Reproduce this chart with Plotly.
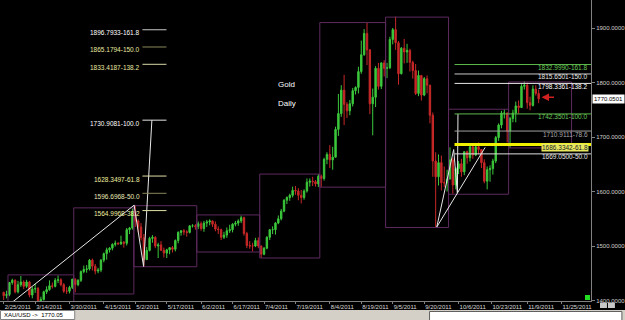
import plotly.graph_objects as go
import pandas as pd
import numpy as np

# ---------------- data ----------------
dates = [d.strftime("%Y-%m-%d") for d in pd.bdate_range("2011-02-25", "2011-11-15")]

opens = [1415,1409,1411,1433,1437,1416,1429,1434,1426,1434,1410,1421,1422,1395,1402,1416,1420,1427,1426,1437,1438,1429,1417,1417,1424,
 1439,1429,1437,1453,1457,1458,1474,1463,1454,1456,1474,1486,1493,1496,1503,1505,1504,1507,1505,1530,1533,
 1563,1546,1535,1515,1475,1492,1514,1516,1500,1502,1492,1487,1493,1497,1494,1510,1525,1528,1526,1525,1537,1537,
 1536,1541,1532,1542,1544,1546,1540,1531,1530,1516,1520,1528,1530,1540,1542,1546,1552,1523,1501,1500,1500,1510,
 1500,1485,1496,1516,1530,1530,1542,1550,1564,1584,1589,1593,1602,1601,1593,1589,1601,1617,1619,1618,1614,
 1628,1624,1659,1668,1658,1663,1714,1743,1786,1760,1748,1761,1785,1791,1820,1851,1890,1860,1761,1773,1826,1793,1836,
 1826,1827,1879,1897,1873,1816,1863,1856,1859,1837,1822,1780,1813,1777,1807,1795,1740,1656,1627,1653,1616,1616,
 1623,1658,1612,1642,1651,1636,1673,1662,1682,1667,1682,1677,1653,1619,1640,1642,1656,1699,1722,1744,1744,
 1711,1734,1744,1757,1754,1793,1795,1763,1758,1788,1780]
highs = [1416,1418,1434,1440,1439,1436,1445,1437,1438,1436,1425,1431,1425,1407,1418,1426,1437,1433,1441,1446,1441,1432,1425,1427,1440,
 1441,1439,1455,1464,1465,1476,1477,1467,1460,1476,1488,1497,1498,1505,1510,1507,1519,1509,1533,1535,1569,
 1575,1549,1542,1522,1498,1517,1520,1518,1506,1509,1497,1495,1498,1500,1512,1527,1529,1531,1529,1538,1540,1540,
 1545,1545,1546,1548,1549,1547,1545,1536,1532,1526,1534,1539,1542,1546,1549,1556,1554,1526,1509,1506,1515,1516,
 1501,1498,1518,1530,1536,1544,1556,1568,1586,1591,1596,1609,1610,1606,1603,1604,1624,1624,1627,1621,1632,
 1631,1662,1672,1685,1682,1719,1779,1795,1814,1764,1768,1790,1793,1829,1877,1898,1911,1861,1789,1830,1836,1837,
 1841,1836,1884,1900,1921,1876,1865,1880,1871,1862,1840,1834,1822,1814,1810,1813,1796,1745,1672,1668,1666,1646,
 1640,1681,1662,1645,1656,1660,1674,1675,1686,1684,1686,1690,1678,1659,1646,1648,1660,1702,1725,1748,1751,
 1745,1737,1750,1765,1767,1797,1802,1800,1774,1795,1795,1787]
lows = [1401,1404,1408,1429,1413,1413,1425,1421,1423,1406,1404,1414,1382,1386,1400,1412,1418,1422,1424,1432,1426,1414,1412,1413,1421,
 1415,1426,1434,1450,1451,1455,1455,1448,1450,1452,1470,1475,1488,1492,1499,1502,1502,1497,1501,1522,1530,
 1535,1525,1510,1462,1475,1490,1506,1496,1478,1491,1479,1478,1485,1488,1490,1505,1519,1520,1517,1523,1534,1530,
 1531,1528,1526,1535,1538,1535,1527,1522,1511,1513,1515,1524,1525,1536,1537,1542,1519,1496,1495,1490,1498,1496,
 1478,1483,1494,1511,1522,1521,1540,1547,1562,1577,1583,1589,1594,1584,1578,1585,1598,1609,1610,1609,1608,
 1608,1620,1650,1643,1640,1667,1702,1737,1722,1735,1740,1756,1778,1780,1816,1849,1832,1742,1703,1755,1787,1788,
 1811,1808,1825,1870,1860,1796,1815,1835,1836,1820,1807,1777,1775,1767,1775,1780,1725,1627,1535,1611,1602,1608,
 1600,1622,1596,1604,1632,1627,1630,1651,1655,1660,1665,1668,1643,1615,1604,1618,1631,1652,1693,1716,1734,
 1690,1680,1727,1727,1743,1754,1787,1752,1749,1756,1776,1762]
closes = [1409,1411,1433,1437,1416,1429,1434,1426,1434,1410,1421,1422,1395,1402,1416,1420,1427,1426,1437,1438,1429,1417,1417,1424,1439,
 1429,1437,1453,1457,1458,1474,1463,1454,1456,1474,1486,1493,1496,1503,1505,1504,1507,1505,1530,1533,1563,
 1546,1535,1515,1475,1492,1514,1516,1500,1502,1492,1487,1493,1497,1494,1510,1525,1528,1526,1525,1537,1537,1536,
 1541,1532,1542,1544,1546,1540,1531,1530,1516,1520,1528,1530,1540,1542,1546,1552,1523,1501,1500,1500,1510,1500,
 1485,1496,1516,1530,1530,1542,1550,1564,1584,1589,1593,1602,1601,1593,1589,1601,1617,1619,1618,1614,1628,
 1624,1659,1668,1658,1663,1714,1743,1786,1760,1748,1761,1785,1791,1820,1851,1890,1860,1761,1773,1826,1793,1836,
 1826,1827,1879,1897,1873,1816,1863,1856,1859,1837,1822,1780,1813,1777,1807,1795,1740,1656,1627,1653,1616,1616,1623,
 1658,1612,1642,1651,1636,1673,1662,1682,1667,1682,1677,1653,1619,1640,1642,1656,1699,1722,1744,1744,1711,
 1734,1744,1757,1754,1793,1795,1763,1758,1788,1780,1770]

# monthly range boxes: start date, end date, high, low
box_start = ["2011-03-01","2011-04-01","2011-05-02","2011-06-01","2011-07-01","2011-08-01","2011-09-01","2011-10-03","2011-11-01"]
box_end   = ["2011-03-31","2011-04-29","2011-05-31","2011-06-30","2011-07-29","2011-08-31","2011-09-30","2011-10-31","2011-11-30"]
box_high  = [1447, 1570, 1574, 1557, 1632, 1910, 1920, 1751, 1801]
box_low   = [1382, 1412, 1462, 1489, 1478, 1608, 1534, 1595, 1680]

tick_dates = ["2011-02-25","2011-03-14","2011-03-30","2011-04-15","2011-05-02","2011-05-17","2011-06-02","2011-06-17",
              "2011-07-04","2011-07-19","2011-08-04","2011-08-19","2011-09-05","2011-09-20","2011-10-06","2011-10-23",
              "2011-11-09","2011-11-25"]
tick_labels = ["2/25/2011","3/14/2011","3/30/2011","4/15/2011","5/2/2011","5/17/2011","6/2/2011","6/17/2011",
               "7/4/2011","7/19/2011","8/4/2011","8/19/2011","9/5/2011","9/20/2011","10/6/2011","10/23/2011",
               "11/9/2011","11/25/2011"]

y_ticks = [1400, 1500, 1600, 1700, 1800, 1900]

left_fib_levels = [1896.7933, 1865.1794, 1833.4187, 1730.9081, 1628.3497, 1596.6968, 1564.9968]
left_fib_labels = ["1896.7933-161.8","1865.1794-150.0","1833.4187-138.2","1730.9081-100.0",
                   "1628.3497-61.8","1596.6968-50.0","1564.9968-38.2"]
right_fib_levels = [1832.9990, 1815.6501, 1798.3361, 1742.3501, 1710.9111, 1686.3342, 1669.0500]
right_fib_labels = ["1832.9990-161.8","1815.6501-150.0","1798.3361-138.2","1742.3501-100.0",
                    "1710.9111-78.6","1686.3342-61.8","1669.0500-50.0"]

# trend-line anchor points (bar position, price)
left_lines = [((-20.0, 1309.0), (43.6, 1575.0)), ((43.6, 1575.0), (46.9, 1462.5)), ((46.9, 1462.5), (49.8, 1730.9))]
right_lines = [((149.4, 1535.0), (155.3, 1677.0)), ((155.3, 1677.0), (156.6, 1597.0)), ((156.6, 1597.0), (156.8, 1742.35)),
               ((149.4, 1535.0), (166.3, 1681.0))]

current_price = 1770.0501
status_text = "XAU/USD ->  1770.05"

# ---------------- helpers ----------------
ORIGIN = "2011-03-01"
idx = np.array([np.busday_count(ORIGIN, d) for d in dates])   # bar position, 0 at 2011-03-01

def pos(d):
    k = float(np.busday_count(ORIGIN, d))
    return k if np.is_busday(d) else k - 0.5

X_MIN, X_MAX = -3.29, 203.3
Y_MIN, Y_MAX = 1399.1, 1951.4
LBL_FONT = "Liberation Sans"

fig = go.Figure()

fig.add_trace(go.Candlestick(
    x=idx, open=opens, high=highs, low=lows, close=closes,
    increasing=dict(line=dict(color="#3cc83c", width=1), fillcolor="#3cc83c"),
    decreasing=dict(line=dict(color="#c82828", width=1), fillcolor="#c82828"),
    whiskerwidth=0, showlegend=False, hoverinfo="skip"))

box_color = "#5e2a5e"
for s, e, h, l in zip(box_start, box_end, box_high, box_low):
    x0 = pos(s) - 0.5
    x1 = pos(e) + 0.5
    fig.add_trace(go.Scatter(x=[x0, x1, x1, x0, x0], y=[h, h, l, l, h], mode="lines",
                             line=dict(color=box_color, width=1), showlegend=False, hoverinfo="skip"))

for (a, b) in left_lines + right_lines:
    fig.add_trace(go.Scatter(x=[a[0], b[0]], y=[a[1], b[1]], mode="lines",
                             line=dict(color="#e8e8e8", width=1), showlegend=False, hoverinfo="skip"))

left_line_colors = ["#c8c8c8", "#8a8a5c", "#d8d8a8", "#e6e6e6", "#e0e0a8", "#86865c", "#e0e0a8"]
left_text_colors = ["#ffffff", "#e8e8a0", "#e8e8a0", "#ffffff", "#f0f0a0", "#e8e8b8", "#f0f0a0"]
for lvl, lab, lc, tc in zip(left_fib_levels, left_fib_labels, left_line_colors, left_text_colors):
    fig.add_trace(go.Scatter(x=[46.5, 54.9], y=[lvl, lvl], mode="lines", line=dict(color=lc, width=1),
                             showlegend=False, hoverinfo="skip"))
    fig.add_annotation(x=46.5, y=lvl, text=lab, showarrow=False, xanchor="right", yanchor="middle",
                       yshift=-3, font=dict(family=LBL_FONT, size=6.5, color=tc))

right_line_colors = ["#5cb84c", "#c8c8c8", "#e6e6e6", "#5cb84c", "#a0a0a0", "#f0f000", "#e0e0e0"]
right_text_colors = ["#6cc85c", "#e8e8e8", "#ffffff", "#6cc85c", "#a8a8a8", "#202020", "#e8e8e8"]
right_widths = [1, 1, 1, 1, 1, 3, 1]
for lvl, lab, lc, tc, w in zip(right_fib_levels, right_fib_labels, right_line_colors, right_text_colors, right_widths):
    fig.add_trace(go.Scatter(x=[155.6, X_MAX], y=[lvl, lvl], mode="lines", line=dict(color=lc, width=w),
                             showlegend=False, hoverinfo="skip"))
    fig.add_annotation(x=202.6, y=lvl, text=lab, showarrow=False, xanchor="right", yanchor="middle",
                       yshift=-3, font=dict(family=LBL_FONT, size=6.5, color=tc),
                       bgcolor="#e8e860" if w > 1 else None, borderpad=0)

# current price marker on the axis
fig.add_annotation(xref="paper", x=1.0, xanchor="left", xshift=1, y=current_price, text=f"{current_price:.4f}",
                   showarrow=False, bgcolor="#ffffff", font=dict(family=LBL_FONT, size=6, color="#000000"),
                   borderpad=1)
# red arrow pointing at last bar
fig.add_annotation(x=idx[-1] + 1.0, y=closes[-1] + 3, ax=14, ay=0, text="", showarrow=True,
                   arrowhead=2, arrowsize=1, arrowwidth=1.5, arrowcolor="#d02020")

# titles inside plot
fig.add_annotation(xref="paper", yref="paper", x=287/593, y=1-85/301, text="Gold", showarrow=False,
                   xanchor="center", yanchor="middle", font=dict(family=LBL_FONT, size=8, color="#ffffff"))
fig.add_annotation(xref="paper", yref="paper", x=288/593, y=1-103/301, text="Daily", showarrow=False,
                   xanchor="center", yanchor="middle", font=dict(family=LBL_FONT, size=8, color="#ffffff"))

# status bar
fig.add_shape(type="rect", xref="paper", yref="paper", x0=-0.01, x1=1.06, y0=-19.5/301, y1=-9/301,
              fillcolor="#d4d0c8", line=dict(width=0), layer="below")
fig.add_shape(type="rect", xref="paper", yref="paper", x0=0.5/593, x1=75/593, y0=-18.5/301, y1=-9.5/301,
              fillcolor="#ffffff", line=dict(color="#808080", width=1))
fig.add_annotation(xref="paper", yref="paper", x=2/593, y=-14/301, text=status_text, showarrow=False,
                   xanchor="left", yanchor="middle", font=dict(family=LBL_FONT, size=6, color="#000000"))
fig.add_shape(type="rect", xref="paper", yref="paper", x0=431/593, x1=624/593, y0=-19.5/301, y1=-10.5/301,
              fillcolor="#ffffff", line=dict(color="#606060", width=1))
# small markers near axes
fig.add_shape(type="rect", xref="paper", yref="paper", x0=587/593, x1=592/593, y0=1/301, y1=6/301,
              fillcolor="#22dd22", line=dict(width=0))
fig.add_shape(type="rect", xref="paper", yref="paper", x0=602/593, x1=609/593, y0=-7/301, y1=-1.5/301,
              fillcolor="#c8c8c8", line=dict(width=0))
fig.add_shape(type="rect", xref="paper", yref="paper", x0=610/593, x1=617/593, y0=-7/301, y1=-1.5/301,
              fillcolor="#c8c8c8", line=dict(width=0))

fig.update_layout(
    width=625, height=320,
    margin=dict(l=0, r=32, t=0, b=19),
    paper_bgcolor="#000000", plot_bgcolor="#000000",
    showlegend=False,
    xaxis=dict(range=[X_MIN, X_MAX], tickvals=[pos(d) for d in tick_dates], ticktext=tick_labels,
               tickangle=0, ticklabelposition="outside right",
               tickfont=dict(family="Liberation Sans Narrow, " + LBL_FONT, size=6, color="#d8d8d8"),
               showgrid=False, zeroline=False, showline=True, linecolor="#808080", ticks="outside",
               ticklen=2, tickcolor="#808080", rangeslider=dict(visible=False)),
    yaxis=dict(range=[Y_MIN, Y_MAX], side="right", tickvals=y_ticks, ticktext=[f"{v:.4f}" for v in y_ticks],
               tickfont=dict(family=LBL_FONT, size=6, color="#d0d0d0"), showgrid=False, zeroline=False,
               showline=True, linecolor="#808080", ticks="outside", ticklen=3, tickcolor="#808080"),
)

fig.write_html("out.html")
